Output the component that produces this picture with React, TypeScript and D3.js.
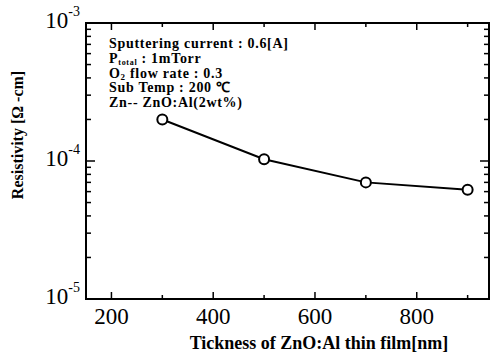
import React from 'react';
import * as d3 from 'd3';

// thickness [nm] vs resistivity [ohm-cm]
const thickness = [300, 500, 700, 900];
const resistivity = [2.0e-4, 1.03e-4, 7.0e-5, 6.2e-5];

const xTicks = [200, 400, 600, 800];
const xMinorTicks = [300, 500, 700, 900];
const yExponents = [-3, -4, -5];

const notes = [
  'Sputtering current : 0.6[A]',
  'P_total : 1mTorr',
  'O2 flow rate : 0.3',
  'Sub Temp : 200 \u2103',
  'Zn-- ZnO:Al(2wt%)',
];

const width = 490;
const height = 360;
const marginLeft = 86;
const marginTop = 23;
const plotRight = 489;
const plotBottom = 299;
const font = '"Liberation Serif", "Times New Roman", serif';

export default function App() {
  const x = d3.scaleLinear().domain([150, 942]).range([marginLeft, plotRight]);
  const y = d3.scaleLog().domain([1e-5, 1e-3]).range([plotBottom, marginTop]);

  const line = d3
    .line<number>()
    .x((i) => x(thickness[i]))
    .y((i) => y(resistivity[i]));
  const idx = d3.range(thickness.length);

  // log minor ticks 2..9 in each decade
  const yMinor: number[] = [];
  [-5, -4].forEach((e) => {
    for (let m = 2; m <= 9; m++) yMinor.push(m * Math.pow(10, e));
  });

  const noteLine = (s: string, i: number) => {
    const ty = 48 + i * 14.8;
    if (s.startsWith('P_total')) {
      return (
        <text key={i} x={109} y={ty}>
          P<tspan fontSize={8} dy={2}>total</tspan>
          <tspan dy={-2}> : 1mTorr</tspan>
        </text>
      );
    }
    if (s.startsWith('O2')) {
      return (
        <text key={i} x={109} y={ty}>
          O<tspan fontSize={9} dy={2}>2</tspan>
          <tspan dy={-2}> flow rate : 0.3</tspan>
        </text>
      );
    }
    return (
      <text key={i} x={109} y={ty}>
        {s}
      </text>
    );
  };

  return (
    <svg
      width={width}
      height={height}
      style={{ position: 'absolute', left: 0, top: 0, background: '#fff' }}
      fontFamily={font}
    >
      <rect
        x={marginLeft}
        y={marginTop}
        width={plotRight - marginLeft}
        height={plotBottom - marginTop}
        fill="none"
        stroke="#000"
        strokeWidth={2}
      />

      {/* ticks on all four sides, pointing inward */}
      <g stroke="#000" strokeWidth={1.5}>
        {xTicks.map((t) => (
          <g key={t}>
            <line x1={x(t)} x2={x(t)} y1={plotBottom} y2={plotBottom - 7} />
            <line x1={x(t)} x2={x(t)} y1={marginTop} y2={marginTop + 7} />
          </g>
        ))}
        {xMinorTicks.map((t) => (
          <g key={t}>
            <line x1={x(t)} x2={x(t)} y1={plotBottom} y2={plotBottom - 4} />
            <line x1={x(t)} x2={x(t)} y1={marginTop} y2={marginTop + 4} />
          </g>
        ))}
        {yExponents.map((e) => {
          const v = Math.pow(10, e);
          return (
            <g key={e}>
              <line x1={marginLeft} x2={marginLeft + 9} y1={y(v)} y2={y(v)} />
              <line x1={plotRight} x2={plotRight - 9} y1={y(v)} y2={y(v)} />
            </g>
          );
        })}
        {yMinor.map((v, i) => (
          <g key={i}>
            <line x1={marginLeft} x2={marginLeft + 5} y1={y(v)} y2={y(v)} />
            <line x1={plotRight} x2={plotRight - 5} y1={y(v)} y2={y(v)} />
          </g>
        ))}
      </g>

      {/* x tick labels */}
      <g fontSize={23} textAnchor="middle">
        {xTicks.map((t) => (
          <text key={t} x={x(t)} y={324}>
            {t}
          </text>
        ))}
      </g>

      {/* y tick labels */}
      <g fontSize={23} textAnchor="end">
        {yExponents.map((e) => (
          <text key={e} x={80} y={y(Math.pow(10, e)) + 5}>
            10<tspan fontSize={14} dy={-12}>{e}</tspan>
          </text>
        ))}
      </g>

      {/* data */}
      <path d={line(idx) || ''} fill="none" stroke="#000" strokeWidth={2} />
      {idx.map((i) => (
        <circle
          key={i}
          cx={x(thickness[i])}
          cy={y(resistivity[i])}
          r={5}
          fill="#fff"
          stroke="#000"
          strokeWidth={2}
        />
      ))}

      {/* annotation */}
      <g fontSize={14} fontWeight="bold" letterSpacing={0.7}>
        {notes.map(noteLine)}
      </g>

      {/* axis titles */}
      <text x={319} y={349} fontSize={18} fontWeight="bold" textAnchor="middle">
        Tickness of ZnO:Al thin film[nm]
      </text>
      <text
        transform="translate(23,135) rotate(-90)"
        fontSize={16}
        fontWeight="bold"
        textAnchor="middle"
      >
        Resistivity [Ω -cm]
      </text>
    </svg>
  );
}
